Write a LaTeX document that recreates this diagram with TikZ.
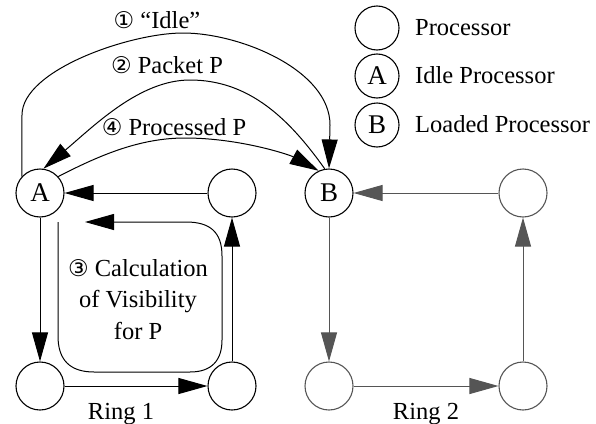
\documentclass[tikz,border=0pt]{standalone}
\usepackage{fontspec}
\setmainfont{Liberation Serif}
\newfontfamily\digitfont{DejaVu Sans}
\usetikzlibrary{arrows.meta}
\definecolor{ringgray}{RGB}{85,85,85}
\newcommand{\circnum}[1]{{\digitfont\fontsize{23}{26}\selectfont #1}}
\tikzset{
  proc/.style={circle, draw, line width=1.1pt, minimum size=48pt, inner sep=0pt, font=\fontsize{27}{30}\selectfont},
  grayproc/.style={proc, draw=ringgray},
  legendproc/.style={circle, draw, line width=1.1pt, minimum size=44pt, inner sep=0pt, font=\fontsize{27}{30}\selectfont},
  conn/.style={line width=1pt, -{Triangle[length=29pt,width=16pt]}},
  grayconn/.style={conn, draw=ringgray, -{Triangle[length=29pt,width=16pt,fill=ringgray]}},
  lbl/.style={inner sep=0pt, anchor=base, font=\fontsize{24.5}{31}\selectfont}
}
\begin{document}
\begin{tikzpicture}[x=1pt,y=-1pt]
\useasboundingbox (0,0) rectangle (596,423);
% ring 1
\node[proc] (A) at (40,193) {A};
\node[proc] (r1tr) at (232,193) {};
\node[proc] (r1bl) at (40,386) {};
\node[proc] (r1br) at (232,386) {};
% ring 2
\node[proc] (B) at (329,193) {B};
\node[grayproc] (r2tr) at (523,193) {};
\node[grayproc] (r2bl) at (329,386) {};
\node[grayproc] (r2br) at (523,386) {};
% legend
\node[legendproc] (lg1) at (377,28) {};
\node[legendproc] (lg2) at (377,76) {A};
\node[legendproc] (lg3) at (377,125) {B};
\node[lbl, anchor=base west] (lt1) at (415,35) {Processor};
\node[lbl, anchor=base west] (lt2) at (415,83) {Idle Processor};
\node[lbl, anchor=base west] (lt3) at (415,132) {Loaded Processor};
% ring 1 arrows
\draw[conn] (A) -- (r1bl);
\draw[conn] (r1bl) -- (r1br);
\draw[conn] (r1br) -- (r1tr);
\draw[conn] (r1tr) -- (A);
% ring 2 arrows
\draw[grayconn] (B) -- (r2bl);
\draw[grayconn] (r2bl) -- (r2br);
\draw[grayconn] (r2br) -- (r2tr);
\draw[grayconn] (r2tr) -- (B);
% messages
\draw[conn] (A.138) -- (22,115) .. controls (22,70) and (130,33) .. (183,33)
  .. controls (240,33) and (330,70) .. (330,125) -- (B.north);
\draw[conn] (B.100) .. controls (290,120) and (250,80) .. (190,80)
  .. controls (140,80) and (95,125) .. (A.82);
\draw[conn] (A.42) .. controls (100,155) and (140,138) .. (185,138)
  .. controls (240,138) and (290,155) .. (B.115);
% processing loop
\coordinate (lp0) at (58,222);
\coordinate (lp1) at (85,222);
\draw[conn] (lp0) -- (58,336) .. controls (58,360) and (70,372) .. (94,372)
  -- (190,372) .. controls (212,372) and (222,360) .. (222,340)
  -- (222,256) .. controls (222,232) and (210,222) .. (186,222) -- (lp1);
% labels
\node[lbl] (m1) at (157,28) {\circnum{①} “Idle”};
\node[lbl] (m2) at (167,73) {\circnum{②} Packet P};
\node[lbl] (m4) at (174,135) {\circnum{④} Processed P};
\node[lbl] (c1) at (138,276) {\circnum{③} Calculation};
\node[lbl] (c2) at (138,307) {of Visibility};
\node[lbl] (c3) at (138,339) {for P};
\node[lbl] (ring1) at (121,419) {Ring 1};
\node[lbl] (ring2) at (426,419) {Ring 2};
\end{tikzpicture}
\end{document}
